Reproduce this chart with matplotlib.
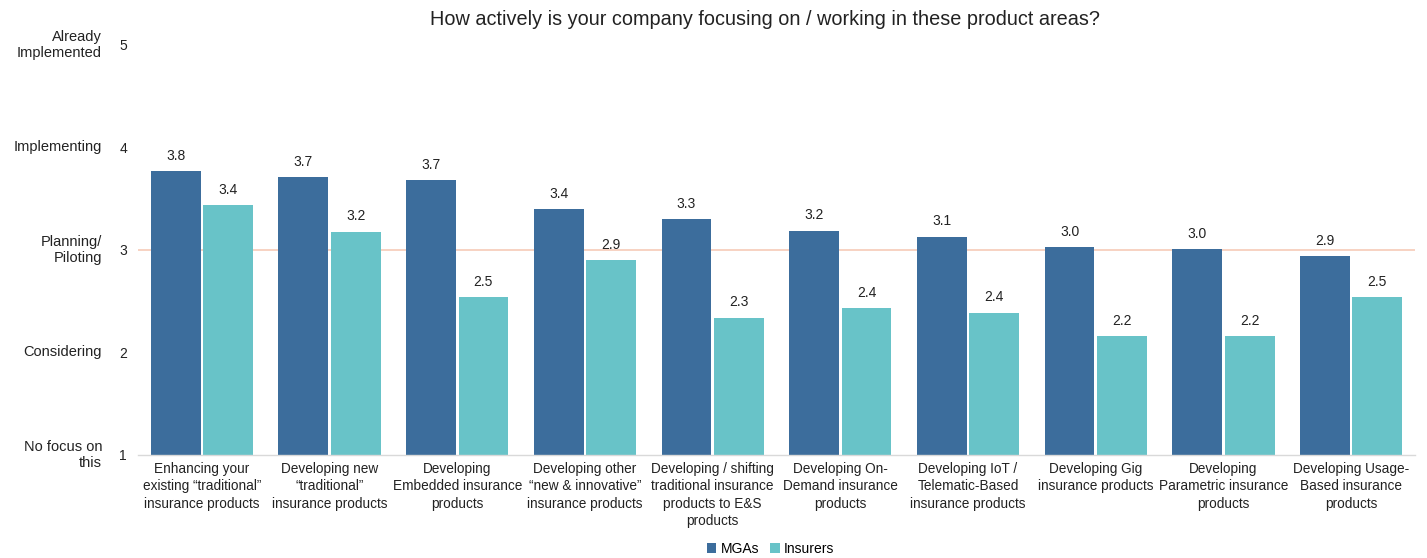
import matplotlib
matplotlib.use("Agg")
import matplotlib.pyplot as plt
import matplotlib.transforms as mtransforms
import numpy as np

categories = [
    "Enhancing your\nexisting \u201ctraditional\u201d\ninsurance products",
    "Developing new\n\u201ctraditional\u201d\ninsurance products",
    "Developing\nEmbedded insurance\nproducts",
    "Developing other\n\u201cnew & innovative\u201d\ninsurance products",
    "Developing / shifting\ntraditional insurance\nproducts to E&S\nproducts",
    "Developing On-\nDemand insurance\nproducts",
    "Developing IoT /\nTelematic-Based\ninsurance products",
    "Developing Gig\ninsurance products",
    "Developing\nParametric insurance\nproducts",
    "Developing Usage-\nBased insurance\nproducts",
]
mgas = [3.77, 3.71, 3.68, 3.40, 3.30, 3.19, 3.13, 3.03, 3.01, 2.94]
insurers = [3.44, 3.18, 2.54, 2.90, 2.34, 2.43, 2.39, 2.16, 2.16, 2.54]
level_ticks = [1, 2, 3, 4, 5]
level_names = ["No focus on\nthis", "Considering", "Planning/\nPiloting",
               "Implementing", "Already\nImplemented"]
title = "How actively is your company focusing on / working in these product areas?"

mga_color = "#3c6d9c"
ins_color = "#68c3c8"
text_color = "#222222"

plt.rcParams["font.family"] = ["Liberation Sans", "DejaVu Sans"]

fig = plt.figure(figsize=(14.27, 5.58), dpi=100)
ax = fig.add_axes([0.0967, 0.1846, 0.8949, 0.7348])

x = np.arange(len(categories))
w = 0.39
off = 0.205
b1 = ax.bar(x - off, np.array(mgas) - 1, w, bottom=1, color=mga_color, label="MGAs")
b2 = ax.bar(x + off, np.array(insurers) - 1, w, bottom=1, color=ins_color, label="Insurers")

for xs, vals in ((x - off, mgas), (x + off, insurers)):
    for xi, v in zip(xs, vals):
        ax.annotate(f"{v:.1f}", (xi, v), xytext=(0, 6), textcoords="offset points",
                    ha="center", va="bottom", fontsize=10, color=text_color)

ax.axhline(3, color="#f6cbb8", lw=1.2, zorder=0)
ax.set_xlim(-0.5, len(categories) - 0.5)
ax.set_ylim(1, 5)

for s in ("top", "right", "left"):
    ax.spines[s].set_visible(False)
ax.spines["bottom"].set_color("#d9d9d9")
ax.spines["bottom"].set_linewidth(1.0)

ax.set_yticks(level_ticks)
ax.set_yticklabels([str(t) for t in level_ticks], fontsize=10, color=text_color)
ax.tick_params(axis="y", length=0, pad=8)
ax.set_xticks(x)
ax.set_xticklabels(categories, fontsize=9.8, color=text_color, linespacing=1.3)
ax.tick_params(axis="x", length=0, pad=5)

trans = mtransforms.blended_transform_factory(fig.transFigure, ax.transData)
for t, name in zip(level_ticks, level_names):
    ax.text(102 / 1427, t, name, transform=trans, ha="right", va="center",
            fontsize=10.5, color=text_color, linespacing=1.25)

fig.text(0.536, 0.965, title, ha="center", va="center", fontsize=14.3, color=text_color)

fig.legend(handles=[b1, b2], loc="center", bbox_to_anchor=(0.54, 0.017), ncol=2,
           frameon=False, fontsize=10, handlelength=0.7, handleheight=0.7,
           handletextpad=0.3, columnspacing=0.8)

fig.savefig("out.png", dpi=100, facecolor="white")
